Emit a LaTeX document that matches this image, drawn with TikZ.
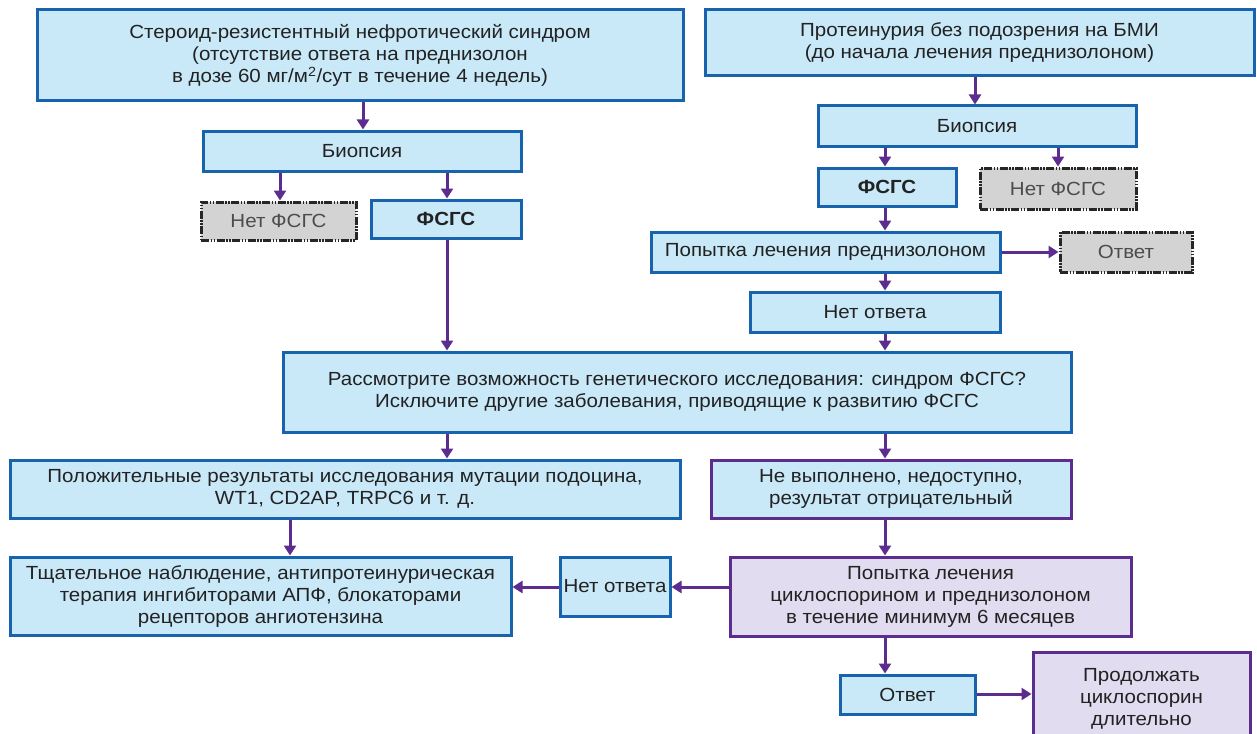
\documentclass[tikz,border=0pt]{standalone}
\usepackage{fontspec}
\setmainfont{Liberation Sans}[FakeStretch=1.08]
\usetikzlibrary{arrows.meta}
\definecolor{bfill}{HTML}{C9E9F9}
\definecolor{bline}{HTML}{1763AE}
\definecolor{pline}{HTML}{5C2D8F}
\definecolor{pfill}{HTML}{E1DCEF}
\definecolor{gfill}{HTML}{D3D3D3}
\definecolor{txt}{HTML}{222222}
\tikzset{
  box/.style={draw=bline, fill=bfill, line width=3pt, align=center, inner sep=0pt,
    text=txt, font=\fontsize{19}{22}\selectfont},
  pbox/.style={box, draw=pline},
  lbox/.style={box, draw=pline, fill=pfill},
  gbox/.style={box, draw=black!85, fill=gfill, text=black!70,
    dash pattern=on 8pt off 1.5pt on 1.5pt off 1.5pt on 1.5pt off 1.5pt},
  arr/.style={draw=pline, line width=3pt, -{Triangle[length=10pt,width=12pt]}},
}
\begin{document}
\begin{tikzpicture}[x=1pt,y=-1pt]
\useasboundingbox[fill=white] (0,0) rectangle (1257,733);
% nodes
\node[box, minimum width=646pt, minimum height=91pt] (A) at (360,55.5)
  {Стероид-резистентный нефротический синдром\\(отсутствие ответа на преднизолон\\в дозе 60 мг/м\textsuperscript{2}/сут в течение 4 недель)};
\node[box, minimum width=549pt, minimum height=66pt] (B) at (979.5,43)
  {Протеинурия без подозрения на БМИ\\(до начала лечения преднизолоном)};
\node[box, minimum width=318pt, minimum height=40pt] (bioL) at (362,151) {Биопсия};
\node[gbox, minimum width=155pt, minimum height=38pt] (noL) at (278.5,221) {Нет ФСГС};
\node[box, minimum width=150pt, minimum height=38pt, font=\fontsize{19}{22}\selectfont\bfseries] (fsL) at (446,219) {ФСГС};
\node[box, minimum width=318pt, minimum height=40pt] (bioR) at (977,126) {Биопсия};
\node[box, minimum width=138pt, minimum height=38pt, font=\fontsize{19}{22}\selectfont\bfseries] (fsR) at (887,187) {ФСГС};
\node[gbox, minimum width=156pt, minimum height=41pt] (noR) at (1058,188.5) {Нет ФСГС};
\node[box, minimum width=349pt, minimum height=40pt] (tryP) at (825.5,252) {Попытка лечения преднизолоном};
\node[gbox, minimum width=132pt, minimum height=40pt] (ansG) at (1126,252) {Ответ};
\node[box, minimum width=250pt, minimum height=40pt] (noAns) at (875,312) {Нет ответа};
\node[box, minimum width=788pt, minimum height=80pt] (cons) at (677,392)
  {Рассмотрите возможность генетического исследования: синдром ФСГС?\\Исключите другие заболевания, приводящие к развитию ФСГС};
\node[box, minimum width=670pt, minimum height=58pt] (pos) at (345,489)
  {Положительные результаты исследования мутации подоцина,\\WT1, CD2AP, TRPC6 и т. д.};
\node[pbox, minimum width=360pt, minimum height=58pt] (neg) at (891,489)
  {Не выполнено, недоступно,\\результат отрицательный};
\node[box, minimum width=501pt, minimum height=78pt] (obs) at (260.5,596)
  {Тщательное наблюдение, антипротеинурическая\\терапия ингибиторами АПФ, блокаторами\\рецепторов ангиотензина};
\node[box, minimum width=110pt, minimum height=59pt] (noAns2) at (615,586.5) {Нет ответа};
\node[lbox, minimum width=401pt, minimum height=79pt] (cyc) at (930.5,596.5)
  {Попытка лечения\\циклоспорином и преднизолоном\\в течение минимум 6 месяцев};
\node[box, minimum width=135pt, minimum height=39pt] (ans2) at (907.5,694.5) {Ответ};
\node[lbox, minimum width=217pt, minimum height=93pt] (cont) at (1141.5,698.5)
  {Продолжать\\циклоспорин\\длительно};
% x positions
\coordinate (x363) at (363,0);
\coordinate (x280) at (280,0);
\coordinate (x447) at (447,0);
\coordinate (x975) at (975,0);
\coordinate (x885) at (885,0);
\coordinate (x1058) at (1058,0);
\coordinate (x290) at (290,0);
\coordinate (y587) at (0,587);
\coordinate (y694) at (0,694);
\coordinate (y252) at (0,252);
% connectors
\draw[arr] (A.south -| x363) -- (bioL.north -| x363);
\draw[arr] (bioL.south -| x280) -- (noL.north -| x280);
\draw[arr] (bioL.south -| x447) -- (fsL.north -| x447);
\draw[arr] (fsL.south -| x447) -- (cons.north -| x447);
\draw[arr] (B.south -| x975) -- (bioR.north -| x975);
\draw[arr] (bioR.south -| x885) -- (fsR.north -| x885);
\draw[arr] (bioR.south -| x1058) -- (noR.north -| x1058);
\draw[arr] (fsR.south -| x885) -- (tryP.north -| x885);
\draw[arr] (tryP.east |- y252) -- (ansG.west |- y252);
\draw[arr] (tryP.south -| x885) -- (noAns.north -| x885);
\draw[arr] (noAns.south -| x885) -- (cons.north -| x885);
\draw[arr] (cons.south -| x447) -- (pos.north -| x447);
\draw[arr] (cons.south -| x885) -- (neg.north -| x885);
\draw[arr] (pos.south -| x290) -- (obs.north -| x290);
\draw[arr] (neg.south -| x885) -- (cyc.north -| x885);
\draw[arr] (cyc.west |- y587) -- (noAns2.east |- y587);
\draw[arr] (noAns2.west |- y587) -- (obs.east |- y587);
\draw[arr] (cyc.south -| x885) -- (ans2.north -| x885);
\draw[arr] (ans2.east |- y694) -- (cont.west |- y694);
\end{tikzpicture}
\end{document}
